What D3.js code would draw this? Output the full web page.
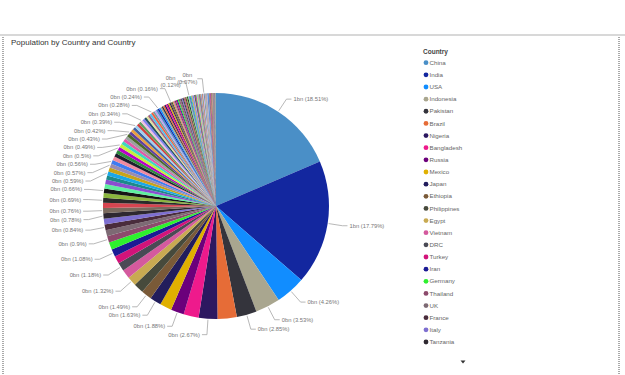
<!DOCTYPE html>
<html>
<head>
<meta charset="utf-8">
<script src="https://cdn.jsdelivr.net/npm/d3@7"></script>
<style>
  body { margin: 0; background: #fff; }
  svg { display: block; }
</style>
</head>
<body>
<script>
// population share (%) per country
var countries = [
  "China", "India", "USA", "Indonesia", "Pakistan", "Brazil", "Nigeria", "Bangladesh", "Russia", "Mexico",
  "Japan", "Ethiopia", "Philippines", "Egypt", "Vietnam", "DRC", "Turkey", "Iran", "Germany", "Thailand",
  "UK", "France", "Italy", "Tanzania", "South Africa", "Myanmar", "Kenya",
  "South Korea", "Colombia", "Spain", "Argentina", "Uganda", "Algeria", "Sudan", "Ukraine", "Iraq", "Afghanistan",
  "Poland", "Canada", "Morocco", "Saudi Arabia", "Uzbekistan", "Peru", "Angola", "Malaysia", "Mozambique", "Ghana",
  "Yemen", "Nepal", "Venezuela", "Madagascar", "Cameroon", "Ivory Coast", "North Korea", "Australia", "Niger", "Taiwan",
  "Sri Lanka", "Burkina Faso", "Mali", "Romania", "Malawi",
  "Chile", "Kazakhstan", "Zambia", "Guatemala", "Ecuador", "Syria", "Netherlands", "Senegal", "Cambodia", "Benin",
  "Chad", "Somalia", "Zimbabwe", "Guinea", "Rwanda", "Burundi", "Tunisia", "Bolivia", "Belgium", "Haiti",
  "Cuba", "South Sudan", "Dominican Republic", "Czech Republic", "Greece", "Jordan", "Portugal", "Azerbaijan", "Sweden",
  "Honduras", "UAE", "Hungary", "Tajikistan", "Belarus", "Austria", "Papua New Guinea", "Serbia", "Israel", "Switzerland",
  "Togo", "Sierra Leone", "Hong Kong", "Laos", "Paraguay", "Bulgaria", "Libya", "Lebanon", "Nicaragua", "Kyrgyzstan",
  "El Salvador", "Turkmenistan",
  "Singapore", "Denmark", "Finland", "Congo", "Oman", "Palestine", "Costa Rica", "Liberia", "Ireland", "Central African Republic",
  "New Zealand", "Mauritania", "Panama", "Kuwait", "Croatia", "Moldova", "Georgia", "Eritrea", "Uruguay", "Bosnia and Herzegovina",
  "Mongolia", "Armenia", "Jamaica", "Qatar", "Albania", "Lithuania", "Namibia", "Gambia", "Botswana", "Gabon",
  "Lesotho", "North Macedonia", "Slovenia", "Guinea-Bissau", "Latvia", "Bahrain", "Trinidad and Tobago", "Estonia", "Timor-Leste", "Mauritius",
  "Cyprus", "Eswatini", "Djibouti", "Fiji"
];

var shares = [
  18.51, 17.79, 4.26, 3.53, 2.85, 2.74, 2.67, 2.15, 1.88, 1.68,
  1.63, 1.49, 1.43, 1.32, 1.27, 1.18, 1.10, 1.08, 1.06, 0.90,
  0.88, 0.84, 0.79, 0.78, 0.76, 0.72, 0.69,
  0.68, 0.66, 0.64, 0.62, 0.61, 0.59, 0.58, 0.57, 0.56, 0.54,
  0.52, 0.51, 0.50, 0.49, 0.47, 0.45, 0.44, 0.43, 0.42, 0.41,
  0.40, 0.39, 0.38, 0.35, 0.34, 0.33, 0.32, 0.31, 0.30, 0.29,
  0.28, 0.27, 0.26, 0.25, 0.24,
  0.22, 0.22, 0.21, 0.21, 0.20, 0.20, 0.19, 0.18, 0.17, 0.16,
  0.16, 0.16, 0.16, 0.16, 0.15, 0.15, 0.15, 0.15, 0.14, 0.14,
  0.14, 0.14, 0.13, 0.13, 0.13, 0.13, 0.13, 0.12, 0.12,
  0.12, 0.12, 0.11, 0.11, 0.11, 0.11, 0.10, 0.10, 0.10, 0.10,
  0.09, 0.09, 0.09, 0.09, 0.09, 0.08, 0.08, 0.08, 0.08, 0.08,
  0.08, 0.07,
  0.07, 0.07, 0.07, 0.07, 0.06, 0.06, 0.06, 0.06, 0.06, 0.06,
  0.06, 0.06, 0.05, 0.05, 0.05, 0.05, 0.05, 0.04, 0.04, 0.04,
  0.04, 0.04, 0.04, 0.03, 0.03, 0.03, 0.03, 0.03, 0.03, 0.03,
  0.02, 0.02, 0.02, 0.02, 0.02, 0.02, 0.02, 0.01, 0.01, 0.01,
  0.01, 0.01, 0.01, 0.01
];

// slices that carry a data label in the picture
var labelledCountries = [
  "China", "India", "USA", "Indonesia", "Pakistan", "Nigeria", "Russia", "Japan", "Ethiopia", "Egypt",
  "DRC", "Iran", "Thailand", "France", "Tanzania", "South Africa", "Kenya", "Colombia", "Algeria", "Ukraine",
  "Iraq", "Morocco", "Saudi Arabia", "Malaysia", "Mozambique", "Nepal", "Cameroon", "Sri Lanka", "Malawi", "Benin",
  "Sweden", "Turkmenistan"
];

var worldBn = 7.63;   // total population, billions
var legendCount = 24;

var colors = [
  "#4a8fc7", "#13279f", "#118dff", "#a9a68f", "#34343c", "#e66c37", "#2c1860", "#ee1a8c", "#6b007b", "#e0b000",
  "#221d5c", "#7a5a38", "#474a3c", "#c8aa52", "#d45a9e", "#4a4a55", "#d2137a", "#1b1b94", "#2ef02e", "#8c4a6c",
  "#7d6a74", "#4a2c3c", "#7e6fd0", "#2e2830",
  "#7a6a5e", "#d64550", "#2b2b2b", "#8bb63e", "#151515", "#5ff0a0", "#8a4fd0", "#1c8a8a", "#1aa7e8", "#c8a41a",
  "#9a8cb0", "#3e7bf0", "#f08aa0", "#1e1e2e", "#2e8b3e", "#b800c8", "#c6f03c", "#3ed8c0", "#e05aa8", "#9aa0a0",
  "#4a6a2a", "#6040a0", "#e8a040", "#4060a0", "#a0d0f0", "#d04040", "#60a060", "#f0c0e0", "#8080f0", "#205060",
  "#e0e0a0", "#a06080", "#50c0f0", "#f06040", "#70a0a0", "#c0a0f0"
];

var width = 625, height = 375;
var cx = 216, cy = 206, radius = 113, labelRadius = 128;

var data = countries.map(function(c, i) { return { country: c, share: shares[i] }; });

var color = d3.scaleOrdinal().domain(countries).range(colors);

var svg = d3.select("body").append("svg")
  .attr("width", width)
  .attr("height", height);

// frame
svg.append("rect")
  .attr("x", 0).attr("y", 34).attr("width", width).attr("height", 2)
  .attr("fill", "#d8d8d8");
[3, 619].forEach(function(x) {
  svg.append("line")
    .attr("x1", x).attr("x2", x).attr("y1", 37).attr("y2", height)
    .attr("stroke", "#555").attr("stroke-width", 1)
    .attr("stroke-dasharray", "1,1");
});

svg.append("text")
  .attr("x", 11).attr("y", 45)
  .attr("font-family", "Liberation Sans, Arial, sans-serif")
  .attr("font-size", 8)
  .attr("fill", "#333")
  .text("Population by Country and Country");

var pie = d3.pie().sort(null).value(function(d) { return d.share; });
var arcs = pie(data);
var arc = d3.arc().innerRadius(0).outerRadius(radius);

var g = svg.append("g").attr("transform", "translate(" + cx + "," + cy + ")");

g.selectAll("path.slice")
  .data(arcs)
  .enter().append("path")
  .attr("class", "slice")
  .attr("d", arc)
  .attr("fill", function(d) { return color(d.data.country); });

// labels
var labels = arcs.filter(function(d) {
  return labelledCountries.indexOf(d.data.country) >= 0;
}).map(function(d) {
  var a = (d.startAngle + d.endAngle) / 2;
  return {
    d: d,
    a: a,
    side: Math.sin(a) >= 0 ? 1 : -1,
    nx: labelRadius * Math.sin(a),
    y: -labelRadius * Math.cos(a),
    twoLine: a > Math.PI * 2 * 0.955
  };
});

function relax(list, gap) {
  list.sort(function(p, q) { return p.y - q.y; });
  for (var i = 1; i < list.length; i++) {
    if (list[i].y - list[i - 1].y < gap) list[i].y = list[i - 1].y + gap;
  }
}
relax(labels.filter(function(l) { return l.side < 0 && !l.twoLine; }), 8.4);
relax(labels.filter(function(l) { return l.side > 0; }), 8.4);

labels.forEach(function(l) {
  var circ = Math.sqrt(Math.max(0, labelRadius * labelRadius - l.y * l.y));
  l.x = l.twoLine ? l.nx : l.side * Math.max(Math.abs(l.nx), circ);
});

var fmtBn = function(v) { return Math.round(v / 100 * worldBn) + "bn"; };

var lg = g.append("g").attr("class", "labels");

labels.forEach(function(l) {
  var px = (radius + 1) * Math.sin(l.a), py = -(radius + 1) * Math.cos(l.a);
  lg.append("path")
    .attr("d", "M" + px + "," + py + "L" + l.x + "," + l.y + "L" + (l.x + l.side * 5) + "," + l.y)
    .attr("fill", "none")
    .attr("stroke", "#a6a6a6")
    .attr("stroke-width", 0.8);

  var t = lg.append("text")
    .attr("font-family", "Liberation Sans, Arial, sans-serif")
    .attr("font-size", 5.8)
    .attr("fill", "#777");
  var bn = fmtBn(l.d.data.share), pct = "(" + l.d.data.share + "%)";
  if (l.twoLine) {
    t.attr("text-anchor", "middle");
    t.append("tspan").attr("x", l.x - 15).attr("y", l.y - 2).text(bn);
    t.append("tspan").attr("x", l.x - 15).attr("y", l.y + 5).text(pct);
  } else {
    t.attr("x", l.x + l.side * 7)
      .attr("y", l.y)
      .attr("dy", "0.35em")
      .attr("text-anchor", l.side > 0 ? "start" : "end")
      .text(bn + " " + pct);
  }
});

// legend
var legend = svg.append("g").attr("transform", "translate(423,0)");
legend.append("text")
  .attr("x", 0).attr("y", 54)
  .attr("font-family", "Liberation Sans, Arial, sans-serif")
  .attr("font-size", 6.5)
  .attr("font-weight", "bold")
  .attr("fill", "#444")
  .text("Country");

var legendY = d3.scalePoint()
  .domain(countries.slice(0, legendCount))
  .range([62.7, 342]);

var items = legend.selectAll("g.item")
  .data(countries.slice(0, legendCount))
  .enter().append("g")
  .attr("class", "item")
  .attr("transform", function(d) { return "translate(0," + legendY(d) + ")"; });

items.append("circle")
  .attr("cx", 3).attr("cy", 0).attr("r", 2.4)
  .attr("fill", function(d) { return color(d); });

items.append("text")
  .attr("x", 6.5).attr("y", 0).attr("dy", "0.35em")
  .attr("font-family", "Liberation Sans, Arial, sans-serif")
  .attr("font-size", 6.2)
  .attr("fill", "#666")
  .text(function(d) { return d; });

svg.append("path")
  .attr("d", "M460.5,360.5L465.5,360.5L463,363.5Z")
  .attr("fill", "#333");
</script>
</body>
</html>
